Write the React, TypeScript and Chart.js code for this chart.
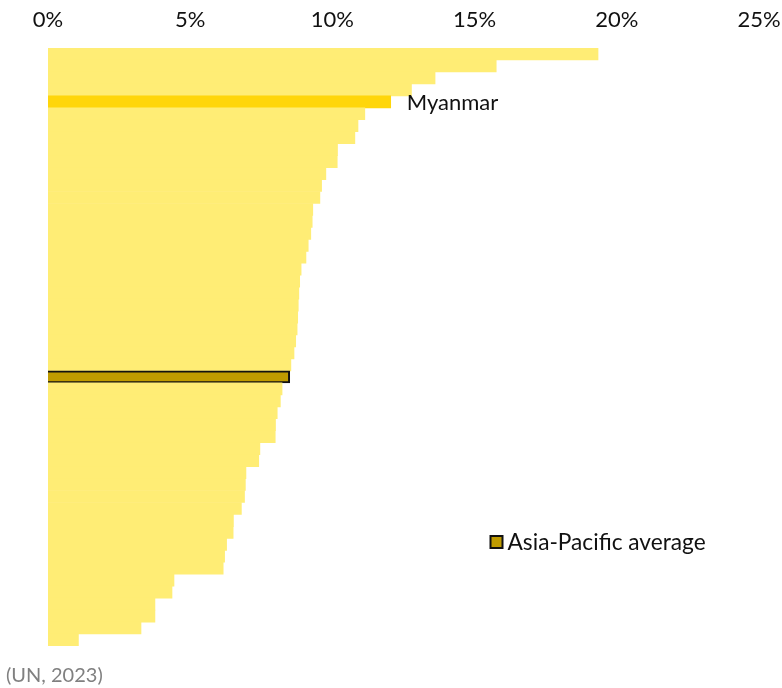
import React, { useEffect, useRef } from "react";
import { Chart, registerables } from "chart.js";

Chart.register(...registerables);

const categories = [
  "Economy 1", "Economy 2", "Economy 3", "Economy 4", "Myanmar",
  "Economy 6", "Economy 7", "Economy 8", "Economy 9", "Economy 10",
  "Economy 11", "Economy 12", "Economy 13", "Economy 14", "Economy 15",
  "Economy 16", "Economy 17", "Economy 18", "Economy 19", "Economy 20",
  "Economy 21", "Economy 22", "Economy 23", "Economy 24", "Economy 25",
  "Economy 26", "Economy 27", "Asia-Pacific average", "Economy 29", "Economy 30",
  "Economy 31", "Economy 32", "Economy 33", "Economy 34", "Economy 35",
  "Economy 36", "Economy 37", "Economy 38", "Economy 39", "Economy 40",
  "Economy 41", "Economy 42", "Economy 43", "Economy 44", "Economy 45",
  "Economy 46", "Economy 47", "Economy 48", "Economy 49", "Economy 50",
];

const values = [
  19.34, 15.76, 13.61, 12.78, 12.05,
  11.14, 10.9, 10.79, 10.18, 10.17,
  9.77, 9.62, 9.56, 9.31, 9.29,
  9.24, 9.15, 9.07, 8.9, 8.85,
  8.82, 8.8, 8.78, 8.76, 8.71,
  8.65, 8.54, 8.5, 8.23, 8.17,
  8.06, 8.0, 7.99, 7.45, 7.41,
  6.96, 6.94, 6.91, 6.8, 6.52,
  6.51, 6.28, 6.21, 6.16, 4.43,
  4.36, 3.76, 3.76, 3.27, 1.07,
];

const xTicks = [0, 5, 10, 15, 20, 25];
const highlightLabel = "Myanmar";
const averageLabel = "Asia-Pacific average";
const sourceText = "(UN, 2023)";

const FONT = "Lato, 'DejaVu Sans', sans-serif";
const BASE = "#FFED75";
const HIGHLIGHT = "#FFD60A";
const AVERAGE = "#BF9B00";

export default function App() {
  const ref = useRef<HTMLCanvasElement | null>(null);

  useEffect(() => {
    if (!ref.current) return;
    const annotations = {
      id: "annotations",
      afterDatasetsDraw(chart: any) {
        const ctx = chart.ctx;
        const meta = chart.getDatasetMeta(0);
        const hi = categories.indexOf(highlightLabel);
        const bar = meta.data[hi];
        ctx.save();
        ctx.font = `22px ${FONT}`;
        ctx.fillStyle = "#111";
        ctx.textBaseline = "middle";
        ctx.textAlign = "left";
        ctx.fillText(highlightLabel, bar.x + 16, bar.y + 1);

        // legend
        const lx = 490.5;
        const ly = 542;
        ctx.fillStyle = AVERAGE;
        ctx.fillRect(lx, ly - 6, 12, 12);
        ctx.strokeStyle = "#111";
        ctx.lineWidth = 2;
        ctx.strokeRect(lx, ly - 6, 12, 12);
        ctx.font = `22.7px ${FONT}`;
        ctx.fillStyle = "#111";
        ctx.fillText(averageLabel, lx + 17, ly + 1);

        // source
        ctx.font = `20px ${FONT}`;
        ctx.fillStyle = "#808080";
        ctx.fillText(sourceText, 6, 676);
        ctx.restore();
      },
    };

    const chart = new Chart(ref.current, {
      type: "bar",
      data: {
        labels: categories,
        datasets: [
          {
            data: values,
            backgroundColor: categories.map((c) =>
              c === highlightLabel ? HIGHLIGHT : c === averageLabel ? AVERAGE : BASE
            ),
            borderColor: "#111",
            borderWidth: categories.map((c) => (c === averageLabel ? 2 : 0)),
            barPercentage: 1,
            categoryPercentage: 1,
          },
        ],
      },
      options: {
        indexAxis: "y",
        animation: false,
        responsive: false,
        maintainAspectRatio: false,
        layout: { padding: { left: 48, right: 23, top: 0, bottom: 42 } },
        plugins: { legend: { display: false }, tooltip: { enabled: false } },
        scales: {
          x: {
            position: "top",
            min: 0,
            max: 25,
            afterBuildTicks: (scale: any) => {
              scale.ticks = xTicks.map((v) => ({ value: v }));
            },
            afterFit: (scale: any) => {
              scale.height = 48;
              scale.paddingLeft = 0;
              scale.paddingRight = 0;
            },
            grid: { display: false },
            border: { display: false },
            ticks: {
              padding: 7,
              color: "#111",
              font: { family: FONT, size: 22 },
              callback: (v: any) => `${v}%`,
            },
          },
          y: { display: false },
        },
      },
      plugins: [annotations],
    });
    return () => chart.destroy();
  }, []);

  return (
    <div style={{ position: "fixed", left: 0, top: 0, width: 782, height: 688 }}>
      <canvas ref={ref} width={782} height={688} style={{ width: 782, height: 688 }} />
    </div>
  );
}
